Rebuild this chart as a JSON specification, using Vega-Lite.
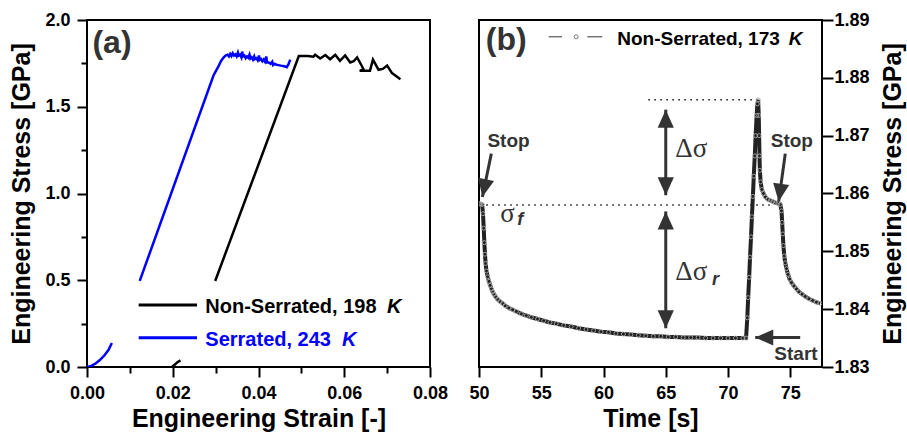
{
  "$schema": "https://vega.github.io/schema/vega-lite/v6.json",
  "padding": {"left": 8, "right": 0, "top": 10, "bottom": 0},
  "background": "white",
  "spacing": 49,
  "bounds": "flush",
  "config": {
    "font": "Liberation Sans",
    "view": {"stroke": "#000", "strokeWidth": 2},
    "axis": {
      "domain": false, "grid": false,
      "tickColor": "#000", "tickWidth": 2,
      "labelFont": "Liberation Sans", "labelFontSize": 18, "labelFontWeight": "bold", "labelColor": "#000",
      "labelFlush": false, "labelOverlap": false,
      "titleFont": "Liberation Sans", "titleFontSize": 25, "titleFontWeight": "bold", "titleColor": "#000"
    }
  },
  "datasets": {
    "curvesA": [
      {"s":"S","g":1,"i":1,"x":0,"y":0},{"s":"S","g":1,"i":2,"x":0.001,"y":0.006},{"s":"S","g":1,"i":3,"x":0.002,"y":0.02},{"s":"S","g":1,"i":4,"x":0.003,"y":0.04},{"s":"S","g":1,"i":5,"x":0.004,"y":0.065},{"s":"S","g":1,"i":6,"x":0.005,"y":0.098},{"s":"S","g":1,"i":7,"x":0.0058,"y":0.138},
      {"s":"S","g":2,"i":1,"x":0.0123,"y":0.496},{"s":"S","g":2,"i":2,"x":0.0295,"y":1.68},{"s":"S","g":2,"i":3,"x":0.0305,"y":1.725},{"s":"S","g":2,"i":4,"x":0.0313,"y":1.765},{"s":"S","g":2,"i":5,"x":0.0319,"y":1.785},
      {"s":"S","g":2,"i":6,"x":0.0323,"y":1.795},{"s":"S","g":2,"i":7,"x":0.0328,"y":1.8},{"s":"S","g":2,"i":8,"x":0.0331,"y":1.79},{"s":"S","g":2,"i":9,"x":0.0334,"y":1.805},{"s":"S","g":2,"i":10,"x":0.0337,"y":1.792},{"s":"S","g":2,"i":11,"x":0.034,"y":1.808},{"s":"S","g":2,"i":12,"x":0.0343,"y":1.795},{"s":"S","g":2,"i":13,"x":0.0346,"y":1.802},{"s":"S","g":2,"i":14,"x":0.0349,"y":1.79},{"s":"S","g":2,"i":15,"x":0.0352,"y":1.812},{"s":"S","g":2,"i":16,"x":0.0354,"y":1.795},{"s":"S","g":2,"i":17,"x":0.0357,"y":1.8},{"s":"S","g":2,"i":18,"x":0.036,"y":1.785},{"s":"S","g":2,"i":19,"x":0.0362,"y":1.818},{"s":"S","g":2,"i":20,"x":0.0364,"y":1.79},{"s":"S","g":2,"i":21,"x":0.0367,"y":1.795},{"s":"S","g":2,"i":22,"x":0.037,"y":1.78},{"s":"S","g":2,"i":23,"x":0.0373,"y":1.79},{"s":"S","g":2,"i":24,"x":0.0376,"y":1.782},{"s":"S","g":2,"i":25,"x":0.0379,"y":1.8},{"s":"S","g":2,"i":26,"x":0.0381,"y":1.778},{"s":"S","g":2,"i":27,"x":0.0384,"y":1.785},{"s":"S","g":2,"i":28,"x":0.0387,"y":1.772},{"s":"S","g":2,"i":29,"x":0.039,"y":1.79},{"s":"S","g":2,"i":30,"x":0.0392,"y":1.775},{"s":"S","g":2,"i":31,"x":0.0395,"y":1.78},{"s":"S","g":2,"i":32,"x":0.0398,"y":1.768},{"s":"S","g":2,"i":33,"x":0.0401,"y":1.795},{"s":"S","g":2,"i":34,"x":0.0403,"y":1.77},{"s":"S","g":2,"i":35,"x":0.0406,"y":1.775},{"s":"S","g":2,"i":36,"x":0.0409,"y":1.762},{"s":"S","g":2,"i":37,"x":0.0412,"y":1.772},{"s":"S","g":2,"i":38,"x":0.0415,"y":1.76},{"s":"S","g":2,"i":39,"x":0.0418,"y":1.79},{"s":"S","g":2,"i":40,"x":0.042,"y":1.755},{"s":"S","g":2,"i":41,"x":0.0424,"y":1.755},{"s":"S","g":2,"i":42,"x":0.0428,"y":1.748},{"s":"S","g":2,"i":43,"x":0.0432,"y":1.76},{"s":"S","g":2,"i":44,"x":0.0434,"y":1.74},{"s":"S","g":2,"i":45,"x":0.0438,"y":1.748},{"s":"S","g":2,"i":46,"x":0.0442,"y":1.742},{"s":"S","g":2,"i":47,"x":0.0447,"y":1.74},{"s":"S","g":2,"i":48,"x":0.0452,"y":1.737},{"s":"S","g":2,"i":49,"x":0.0457,"y":1.735},{"s":"S","g":2,"i":50,"x":0.0462,"y":1.732},{"s":"S","g":2,"i":51,"x":0.0466,"y":1.728},{"s":"S","g":2,"i":52,"x":0.047,"y":1.745},{"s":"S","g":2,"i":53,"x":0.0474,"y":1.772},
      {"s":"N","g":3,"i":1,"x":0.0198,"y":0},{"s":"N","g":3,"i":2,"x":0.0205,"y":0.014},{"s":"N","g":3,"i":3,"x":0.0211,"y":0.028},{"s":"N","g":3,"i":4,"x":0.0218,"y":0.038},
      {"s":"N","g":4,"i":1,"x":0.0299,"y":0.496},{"s":"N","g":4,"i":2,"x":0.0494,"y":1.792},{"s":"N","g":4,"i":3,"x":0.0515,"y":1.792},{"s":"N","g":4,"i":4,"x":0.0528,"y":1.788},{"s":"N","g":4,"i":5,"x":0.0532,"y":1.8},{"s":"N","g":4,"i":6,"x":0.0544,"y":1.778},{"s":"N","g":4,"i":7,"x":0.0556,"y":1.798},{"s":"N","g":4,"i":8,"x":0.0567,"y":1.774},{"s":"N","g":4,"i":9,"x":0.0579,"y":1.8},{"s":"N","g":4,"i":10,"x":0.059,"y":1.765},{"s":"N","g":4,"i":11,"x":0.0602,"y":1.796},{"s":"N","g":4,"i":12,"x":0.0614,"y":1.755},{"s":"N","g":4,"i":13,"x":0.0622,"y":1.762},{"s":"N","g":4,"i":14,"x":0.063,"y":1.784},{"s":"N","g":4,"i":15,"x":0.0641,"y":1.735},{"s":"N","g":4,"i":16,"x":0.0645,"y":1.716},{"s":"N","g":4,"i":17,"x":0.0636,"y":1.707},{"s":"N","g":4,"i":18,"x":0.066,"y":1.708},{"s":"N","g":4,"i":19,"x":0.0667,"y":1.772},{"s":"N","g":4,"i":20,"x":0.068,"y":1.713},{"s":"N","g":4,"i":21,"x":0.069,"y":1.718},{"s":"N","g":4,"i":22,"x":0.07,"y":1.737},{"s":"N","g":4,"i":23,"x":0.0711,"y":1.695},{"s":"N","g":4,"i":24,"x":0.072,"y":1.678},{"s":"N","g":4,"i":25,"x":0.0731,"y":1.658}
    ],
    "legendA": [
      {"s":"N","x":0.01205,"x2":0.02566,"xt":0.0276,"y":0.357,"t":"Non-Serrated, 198","k":"K","xk":0.06997},
      {"s":"S","x":0.01205,"x2":0.02566,"xt":0.0276,"y":0.169,"t":"Serrated, 243","k":"K","xk":0.05948}
    ],
    "curveB": [
      {"x":50.05,"y":1.8582},{"x":50.15,"y":1.8582},{"x":50.25,"y":1.8581},{"x":50.32,"y":1.8565},{"x":50.38,"y":1.854},{"x":50.43,"y":1.8515},{"x":50.48,"y":1.8495},{"x":50.53,"y":1.8479},{"x":50.6,"y":1.8466},{"x":50.7,"y":1.8456},{"x":50.8,"y":1.8448},{"x":50.9,"y":1.8441},{"x":51.0,"y":1.8435},{"x":51.1,"y":1.843},{"x":51.2,"y":1.8426},{"x":51.35,"y":1.8421},{"x":51.5,"y":1.8417},{"x":51.7,"y":1.8413},{"x":51.9,"y":1.841},{"x":52.1,"y":1.8406},{"x":52.4,"y":1.8402},{"x":52.7,"y":1.8399},{"x":53.0,"y":1.8396},{"x":53.4,"y":1.8392},{"x":53.8,"y":1.8389},{"x":54.2,"y":1.8386},{"x":54.7,"y":1.8383},{"x":55.2,"y":1.838},{"x":55.7,"y":1.8377},{"x":56.2,"y":1.8375},{"x":56.8,"y":1.8372},{"x":57.4,"y":1.837},{"x":58.0,"y":1.8367},{"x":58.6,"y":1.8365},{"x":59.2,"y":1.8363},{"x":59.8,"y":1.8361},{"x":60.4,"y":1.836},{"x":61.0,"y":1.8358},{"x":61.6,"y":1.8357},{"x":62.2,"y":1.8356},{"x":62.8,"y":1.8355},{"x":63.4,"y":1.8354},{"x":64.0,"y":1.8353},{"x":64.6,"y":1.8353},{"x":65.2,"y":1.8352},{"x":65.8,"y":1.8352},{"x":66.4,"y":1.8351},{"x":67.0,"y":1.8351},{"x":67.6,"y":1.8351},{"x":68.2,"y":1.835},{"x":68.8,"y":1.835},{"x":69.4,"y":1.835},{"x":70.0,"y":1.835},{"x":70.6,"y":1.835},{"x":71.2,"y":1.835},{"x":71.45,"y":1.835},
      {"x":71.55,"y":1.8385},{"x":71.62,"y":1.842},{"x":71.7,"y":1.8455},{"x":71.77,"y":1.849},{"x":71.85,"y":1.8525},{"x":71.92,"y":1.856},{"x":72.0,"y":1.8595},{"x":72.07,"y":1.863},{"x":72.15,"y":1.8665},{"x":72.22,"y":1.87},{"x":72.3,"y":1.8735},{"x":72.36,"y":1.8755},{"x":72.42,"y":1.8762},
      {"x":72.47,"y":1.8735},{"x":72.5,"y":1.87},{"x":72.53,"y":1.8665},{"x":72.56,"y":1.864},{"x":72.62,"y":1.862},{"x":72.72,"y":1.8607},{"x":72.85,"y":1.86},{"x":73.0,"y":1.8594},{"x":73.2,"y":1.859},{"x":73.4,"y":1.8588},{"x":73.6,"y":1.8586},{"x":73.8,"y":1.8584},{"x":74.0,"y":1.8583},{"x":74.2,"y":1.8581},{"x":74.3,"y":1.857},{"x":74.35,"y":1.855},{"x":74.4,"y":1.853},{"x":74.45,"y":1.851},{"x":74.52,"y":1.8492},{"x":74.6,"y":1.848},{"x":74.7,"y":1.847},{"x":74.82,"y":1.846},{"x":74.95,"y":1.8452},{"x":75.1,"y":1.8446},{"x":75.3,"y":1.844},{"x":75.5,"y":1.8435},{"x":75.7,"y":1.843},{"x":75.95,"y":1.8426},{"x":76.2,"y":1.8422},{"x":76.5,"y":1.8418},{"x":76.8,"y":1.8415},{"x":77.1,"y":1.8412},{"x":77.4,"y":1.841}
    ],
    "dotsB": [
      {"x":50.1,"x2":73.6,"y":1.858},
      {"x":63.6,"x2":72.35,"y":1.8762}
    ],
    "shaftsB": [
      {"x":65,"y":1.8745,"x2":65,"y2":1.8597},
      {"x":65,"y":1.8569,"x2":65,"y2":1.8367},
      {"x":50.99,"y":1.8669,"x2":50.27,"y2":1.8594},
      {"x":74.6,"y":1.8669,"x2":74.07,"y2":1.8586},
      {"x":75.8,"y":1.8351,"x2":72.19,"y2":1.8351}
    ],
    "headsB": [
      {"x":65,"y":1.8745,"a":0},
      {"x":65,"y":1.8597,"a":180},
      {"x":65,"y":1.8569,"a":0},
      {"x":65,"y":1.8367,"a":180},
      {"x":50.27,"y":1.8594,"a":192},
      {"x":74.07,"y":1.8586,"a":188},
      {"x":72.19,"y":1.8351,"a":270}
    ],
    "labelsB": [
      {"x":52.37,"y":1.869,"t":"Stop"},
      {"x":75.13,"y":1.869,"t":"Stop"},
      {"x":75.46,"y":1.83225,"t":"Start"}
    ],
    "greekB": [
      {"x":65.77,"y":1.86626,"t":"Δσ"},
      {"x":65.77,"y":1.84504,"t":"Δσ"},
      {"x":51.71,"y":1.8551,"t":"σ"}
    ],
    "subB": [
      {"x":68.71,"y":1.8442,"t":"r"},
      {"x":53.07,"y":1.8545,"t":"f"}
    ]
  },
  "hconcat": [
    {
      "width": 343,
      "height": 347,
      "layer": [
        {
          "data": {"name": "curvesA"},
          "mark": {"type": "line", "strokeWidth": 2.5, "clip": true},
          "encoding": {
            "x": {"field": "x", "type": "quantitative",
              "scale": {"domain": [0, 0.08], "nice": false, "zero": false},
              "axis": {"title": "Engineering Strain [-]",
                "values": [0,0.01,0.02,0.03,0.04,0.05,0.06,0.07,0.08],
                "labelExpr": "abs(datum.value*50 - round(datum.value*50)) < 1e-6 ? format(datum.value, '.2f') : ''",
                "tickSize": {"condition": {"test": "abs(datum.value*50 - round(datum.value*50)) < 1e-6", "value": 10}, "value": 6},
                "labelPadding": 7, "titlePadding": 4}},
            "y": {"field": "y", "type": "quantitative",
              "scale": {"domain": [0, 2], "nice": false, "zero": false},
              "axis": {"title": "Engineering Stress [GPa]",
                "values": [0,0.25,0.5,0.75,1,1.25,1.5,1.75,2],
                "labelExpr": "abs(datum.value*2 - round(datum.value*2)) < 1e-6 ? format(datum.value, '.1f') : ''",
                "tickSize": {"condition": {"test": "abs(datum.value*2 - round(datum.value*2)) < 1e-6", "value": 10}, "value": 6},
                "labelPadding": 7, "titlePadding": 10}},
            "color": {"field": "s", "type": "nominal", "scale": {"domain": ["N", "S"], "range": ["#000000", "#0000ff"]}, "legend": null},
            "detail": {"field": "g"},
            "order": {"field": "i", "type": "quantitative"}
          }
        },
        {
          "data": {"name": "legendA"},
          "mark": {"type": "rule", "strokeWidth": 3},
          "encoding": {
            "x": {"field": "x", "type": "quantitative"},
            "x2": {"field": "x2"},
            "y": {"field": "y", "type": "quantitative"},
            "color": {"field": "s", "type": "nominal", "legend": null}
          }
        },
        {
          "data": {"name": "legendA"},
          "mark": {"type": "text", "align": "left", "baseline": "middle", "fontSize": 20, "fontWeight": "bold", "font": "Liberation Sans", "dy": 2},
          "encoding": {
            "x": {"field": "xt", "type": "quantitative"},
            "y": {"field": "y", "type": "quantitative"},
            "text": {"field": "t"},
            "color": {"field": "s", "type": "nominal", "legend": null}
          }
        },
        {
          "data": {"name": "legendA"},
          "mark": {"type": "text", "align": "left", "baseline": "middle", "fontSize": 20, "fontWeight": "bold", "fontStyle": "italic", "font": "Liberation Sans", "dy": 2},
          "encoding": {
            "x": {"field": "xk", "type": "quantitative"},
            "y": {"field": "y", "type": "quantitative"},
            "text": {"field": "k"},
            "color": {"field": "s", "type": "nominal", "legend": null}
          }
        },
        {
          "data": {"values": [{"x": 0.00583, "y": 1.866, "t": "(a)"}]},
          "mark": {"type": "text", "align": "center", "baseline": "middle", "fontSize": 32, "fontWeight": "bold", "font": "Liberation Sans", "color": "#333333"},
          "encoding": {
            "x": {"field": "x", "type": "quantitative"},
            "y": {"field": "y", "type": "quantitative"},
            "text": {"field": "t"}
          }
        }
      ]
    },
    {
      "width": 343,
      "height": 347,
      "layer": [
        {
          "data": {"name": "dotsB"},
          "mark": {"type": "rule", "strokeWidth": 1.6, "strokeDash": [1.6, 4.4], "color": "#222222"},
          "encoding": {
            "x": {"field": "x", "type": "quantitative",
              "scale": {"domain": [50, 77.55], "nice": false, "zero": false},
              "axis": {"title": "Time [s]",
                "values": [50,52.5,55,57.5,60,62.5,65,67.5,70,72.5,75],
                "labelExpr": "datum.value % 5 == 0 ? format(datum.value, 'd') : ''",
                "tickSize": {"condition": {"test": "datum.value % 5 == 0", "value": 10}, "value": 6},
                "labelPadding": 7, "titlePadding": 4}},
            "x2": {"field": "x2"},
            "y": {"field": "y", "type": "quantitative",
              "scale": {"domain": [1.83, 1.89], "nice": false, "zero": false},
              "axis": {"title": "Engineering Stress [GPa]", "orient": "right", "titleAngle": 270,
                "values": [1.83,1.835,1.84,1.845,1.85,1.855,1.86,1.865,1.87,1.875,1.88,1.885,1.89],
                "labelExpr": "abs(datum.value*100 - round(datum.value*100)) < 1e-6 ? format(datum.value, '.2f') : ''",
                "tickSize": {"condition": {"test": "abs(datum.value*100 - round(datum.value*100)) < 1e-6", "value": 11}, "value": 6},
                "labelPadding": 1, "titlePadding": 36}}
          }
        },
        {
          "data": {"name": "curveB"},
          "mark": {"type": "line", "color": "#222222", "strokeWidth": 4, "clip": true},
          "encoding": {
            "x": {"field": "x", "type": "quantitative"},
            "y": {"field": "y", "type": "quantitative"}
          }
        },
        {
          "data": {"name": "curveB"},
          "mark": {"type": "point", "shape": "circle", "filled": false, "size": 16, "strokeWidth": 0.9, "color": "#a8a8a8", "opacity": 1, "clip": true},
          "encoding": {
            "x": {"field": "x", "type": "quantitative"},
            "y": {"field": "y", "type": "quantitative"}
          }
        },
        {
          "data": {"name": "shaftsB"},
          "mark": {"type": "rule", "strokeWidth": 3, "color": "#333333"},
          "encoding": {
            "x": {"field": "x", "type": "quantitative"},
            "y": {"field": "y", "type": "quantitative"},
            "x2": {"field": "x2"},
            "y2": {"field": "y2"}
          }
        },
        {
          "data": {"name": "headsB"},
          "mark": {"type": "point", "shape": "M0,0L0.9,2L-0.9,2Z", "filled": true, "size": 324, "color": "#333333", "opacity": 1},
          "encoding": {
            "x": {"field": "x", "type": "quantitative"},
            "y": {"field": "y", "type": "quantitative"},
            "angle": {"field": "a", "type": "quantitative", "scale": null}
          }
        },
        {
          "data": {"name": "labelsB"},
          "mark": {"type": "text", "align": "center", "baseline": "middle", "fontSize": 19, "fontWeight": "bold", "font": "Liberation Sans", "color": "#333333"},
          "encoding": {
            "x": {"field": "x", "type": "quantitative"},
            "y": {"field": "y", "type": "quantitative"},
            "text": {"field": "t"}
          }
        },
        {
          "data": {"name": "greekB"},
          "mark": {"type": "text", "align": "left", "baseline": "alphabetic", "fontSize": 27, "font": "Liberation Serif", "color": "#333333"},
          "encoding": {
            "x": {"field": "x", "type": "quantitative"},
            "y": {"field": "y", "type": "quantitative"},
            "text": {"field": "t"}
          }
        },
        {
          "data": {"name": "subB"},
          "mark": {"type": "text", "align": "left", "baseline": "alphabetic", "fontSize": 18, "fontStyle": "italic", "fontWeight": "bold", "font": "Liberation Sans", "color": "#333333"},
          "encoding": {
            "x": {"field": "x", "type": "quantitative"},
            "y": {"field": "y", "type": "quantitative"},
            "text": {"field": "t"}
          }
        },
        {
          "data": {"values": [{"x": 52.19, "y": 1.8865, "t": "(b)"}]},
          "mark": {"type": "text", "align": "center", "baseline": "middle", "fontSize": 32, "fontWeight": "bold", "font": "Liberation Sans", "color": "#333333"},
          "encoding": {
            "x": {"field": "x", "type": "quantitative"},
            "y": {"field": "y", "type": "quantitative"},
            "text": {"field": "t"}
          }
        },
        {
          "data": {"values": [{"x": 55.6, "x2": 56.67, "y": 1.8871}, {"x": 58.7, "x2": 59.9, "y": 1.8871}]},
          "mark": {"type": "rule", "strokeWidth": 1.2, "color": "#555555"},
          "encoding": {
            "x": {"field": "x", "type": "quantitative"},
            "x2": {"field": "x2"},
            "y": {"field": "y", "type": "quantitative"}
          }
        },
        {
          "data": {"values": [{"x": 57.8, "y": 1.8871}]},
          "mark": {"type": "point", "shape": "circle", "filled": false, "size": 16, "strokeWidth": 1, "color": "#777777", "opacity": 1},
          "encoding": {
            "x": {"field": "x", "type": "quantitative"},
            "y": {"field": "y", "type": "quantitative"}
          }
        },
        {
          "data": {"values": [{"x": 61.1, "y": 1.8871, "t": "Non-Serrated, 173"}]},
          "mark": {"type": "text", "align": "left", "baseline": "middle", "fontSize": 19, "fontWeight": "bold", "font": "Liberation Sans", "color": "#000000", "dy": 2},
          "encoding": {
            "x": {"field": "x", "type": "quantitative"},
            "y": {"field": "y", "type": "quantitative"},
            "text": {"field": "t"}
          }
        },
        {
          "data": {"values": [{"x": 74.87, "y": 1.8871, "t": "K"}]},
          "mark": {"type": "text", "align": "left", "baseline": "middle", "fontSize": 19, "fontWeight": "bold", "fontStyle": "italic", "font": "Liberation Sans", "color": "#000000", "dy": 2},
          "encoding": {
            "x": {"field": "x", "type": "quantitative"},
            "y": {"field": "y", "type": "quantitative"},
            "text": {"field": "t"}
          }
        }
      ]
    }
  ]
}
